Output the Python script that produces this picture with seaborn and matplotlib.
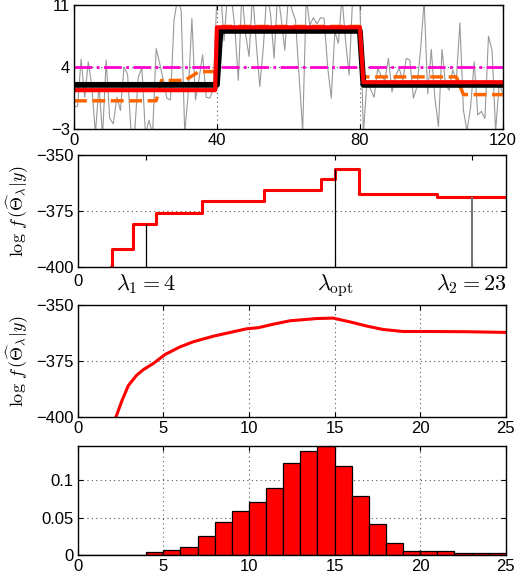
import numpy as np
import pandas as pd
import matplotlib
matplotlib.use('Agg')
import matplotlib.pyplot as plt
import seaborn as sns

# --- top panel: noisy signal and estimates
t = np.arange(0, 121)
noisy = [-0.5, -0.4, 4.9, 0.6, 4.6, 1.8, -3.5, 2.0, -3.8, 4.8,
         -1.8, -2.4, 0.6, -0.9, 4.0, 3.2, -3.5, -3.2, 2.9, 3.9,
         -3.5, -2.0, -3.5, 6.1, 4.4, 2.5, 0.5, 0.3, 9.3, 11.8,
         10.4, -3.5, 1.2, 9.5, 0.3, 2.7, 5.4, 0.6, 0.5, 1.5,
         12.0,
         13.0, 7.0, 12.5, 12.0, 8.6, 2.5, 12.5, 7.8, 5.2, 12.5,
         6.7, 1.8, 6.3, 12.5, 10.0, 5.0, 12.5, 9.5, 5.9, 12.0,
         10.5, 9.3, 3.0, -3.2, 12.0, 8.7, 9.6, 8.9, 9.6, 9.5,
         4.0, 0.5, 8.0, 6.7, 12.0, 7.0, 3.1, 12.0, 12.0, 11.5,
         -3.5, 2.5, 1.5, 0.6, 3.9, 3.0, 2.5, 5.0, 1.2, 3.0,
         3.9, 2.5, 5.0, 4.8, 0.5, 1.8, 6.0, 11.5, 1.0, 6.0,
         0.5, -2.7, 6.0, 2.0, 1.4, 3.7, 2.5, 9.0, -0.9, -3.2,
         -0.5, 4.6, -1.4, -1.0, -1.8, 7.5, 5.9, -3.2, 2.2, 1.0]

true_x = [0, 40, 41, 80, 81, 120]
true_y = [2.0, 2.0, 8.1, 8.1, 2.0, 2.0]
est_x = [0, 39.5, 40, 80, 81, 120]
est_y = [1.4, 1.4, 8.5, 8.5, 2.3, 2.3]
orange_x = [0, 23, 24.5, 31, 35, 39.5, 41.5, 80, 81, 107, 109, 120]
orange_y = [0.2, 0.2, 2.5, 2.5, 3.5, 3.5, 8.6, 8.6, 2.9, 2.9, 0.9, 0.9]
mean_x = [0, 120]
mean_y = [4.05, 4.05]

# --- second panel: log-likelihood vs lambda (steps)
step_lam = [1.95, 2.0, 3.25, 4.55, 7.28, 10.88, 14.18, 15.05, 16.44, 20.95, 25]
step_val = [-400, -392.2, -380.6, -375.8, -370.4, -365.7, -360.7, -356.0, -367.5, -368.5, -368.5]
mark_lam = [4, 15.05, 23]
mark_top = [-380.6, -356.0, -368.5]
mark_labels = [r'$\lambda_1 = 4$', r'$\lambda_{\mathrm{opt}}$', r'$\lambda_2 = 23$']

# --- third panel: smooth curve
curve_lam = [2.24, 2.6, 2.96, 3.44, 3.83, 4.42, 5.1, 5.97, 6.75, 7.92, 9.09, 9.86,
             10.54, 11.5, 12.4, 13.95, 14.9, 15.9, 16.9, 17.84, 19.0, 20.8, 22.7, 25]
curve_val = [-400, -392.5, -386.0, -381.4, -378.9, -376.1, -372.1, -368.7, -366.4,
             -363.9, -361.9, -360.6, -360.1, -358.4, -357.0, -356.0, -355.8, -357.5,
             -359.4, -360.9, -361.8, -361.8, -361.9, -362.2]

# --- bottom panel: histogram of lambda (bins of width 1 on 0..25)
bin_left = np.arange(0, 25)
hist_h = [0.0002, 0.0002, 0.0003, 0.0005, 0.0036, 0.0071, 0.0107, 0.0259, 0.0442,
          0.0594, 0.071, 0.0893, 0.1228, 0.1388, 0.146, 0.1188, 0.0786, 0.0415,
          0.0161, 0.0054, 0.0054, 0.0054, 0.0031, 0.0022, 0.0022]

plt.rcParams['font.family'] = ['Liberation Sans', 'DejaVu Sans']
plt.rcParams['mathtext.fontset'] = 'cm'
plt.rcParams['font.size'] = 12

fig = plt.figure(figsize=(5.21, 5.79), dpi=100)
ax1 = fig.add_axes([0.142, 0.777, 0.823, 0.214])
ax2 = fig.add_axes([0.149, 0.539, 0.822, 0.193])
ax3 = fig.add_axes([0.149, 0.280, 0.822, 0.193])
ax4 = fig.add_axes([0.149, 0.0415, 0.822, 0.188])


def matlab_style(ax, gx=True, gy=True):
    ax.tick_params(direction='in', length=3.5, width=0.8, top=True, right=True,
                   labelsize=12, pad=3)
    for s in ax.spines.values():
        s.set_linewidth(1.0)
        s.set_color('black')
    if gx:
        ax.grid(True, axis='x', ls=(0, (1, 3)), color='0.35', lw=0.8)
    if gy:
        ax.grid(True, axis='y', ls=(0, (1, 3)), color='0.35', lw=0.8)
    ax.set_axisbelow(True)


# panel 1
sns.lineplot(x=t, y=noisy, color='0.6', lw=0.8, ax=ax1)
sns.lineplot(x=mean_x, y=mean_y, color='#ff00cc', lw=2, ls='-.', ax=ax1)
sns.lineplot(x=orange_x, y=orange_y, color='#ff6600', lw=2.5, ls='--',
             estimator=None, sort=False, ax=ax1)
sns.lineplot(x=true_x, y=true_y, color='black', lw=4.2, estimator=None, sort=False, ax=ax1)
sns.lineplot(x=est_x, y=est_y, color='red', lw=3.0, estimator=None, sort=False, ax=ax1)
ax1.set_xlim(0, 120)
ax1.set_ylim(-3, 11)
ax1.set_xticks([0, 40, 80, 120])
ax1.set_yticks([-3, 4, 11])
matlab_style(ax1)

ylab = r'$\log\,f\,(\widehat{\Theta}_\lambda|y)$'

# panel 2
sns.lineplot(x=step_lam, y=step_val, color='red', lw=2.2, drawstyle='steps-post',
             estimator=None, sort=False, ax=ax2)
ax2.vlines(mark_lam[:2], -400, mark_top[:2], color='black', lw=0.9)
ax2.vlines(mark_lam[2:], -400, mark_top[2:], color='0.45', lw=1.4)
ax2.set_xlim(0, 25)
ax2.set_ylim(-400, -350)
ax2.set_yticks([-400, -375, -350])
matlab_style(ax2, gx=False)
ax2.set_xticks(mark_lam)
ax2.set_xticklabels(mark_labels, fontsize=16)
ax2.tick_params(axis='x', pad=4)
ax2.set_ylabel(ylab, fontsize=13, labelpad=4)

# panel 3
sns.lineplot(x=curve_lam, y=curve_val, color='red', lw=2.2, ax=ax3)
ax3.set_xlim(0, 25)
ax3.set_ylim(-400, -350)
ax3.set_xticks([0, 5, 10, 15, 20, 25])
ax3.set_yticks([-400, -375, -350])
matlab_style(ax3)
ax3.set_ylabel(ylab, fontsize=13, labelpad=4)

# panel 4
hist_df = pd.DataFrame({'lam': bin_left + 0.5, 'w': hist_h})
sns.histplot(data=hist_df, x='lam', weights='w', bins=25, binrange=(0, 25),
             color='red', alpha=1, edgecolor='black', linewidth=0.9, ax=ax4)
ax4.set_xlim(0, 25)
ax4.set_ylim(0, 0.146)
ax4.set_xticks([0, 5, 10, 15, 20, 25])
ax4.set_yticks([0, 0.05, 0.1])
ax4.set_yticklabels(['0', '0.05', '0.1'])
matlab_style(ax4)

for ax in (ax1, ax2, ax3, ax4):
    ax.set_xlabel('')
ax1.set_ylabel('')
ax4.set_ylabel('')

# stray "0" below the left end of the second panel
fig.text(0.149, 0.527, '0', ha='center', va='top', fontsize=12, zorder=10)

fig.savefig('out.png', dpi=100)
